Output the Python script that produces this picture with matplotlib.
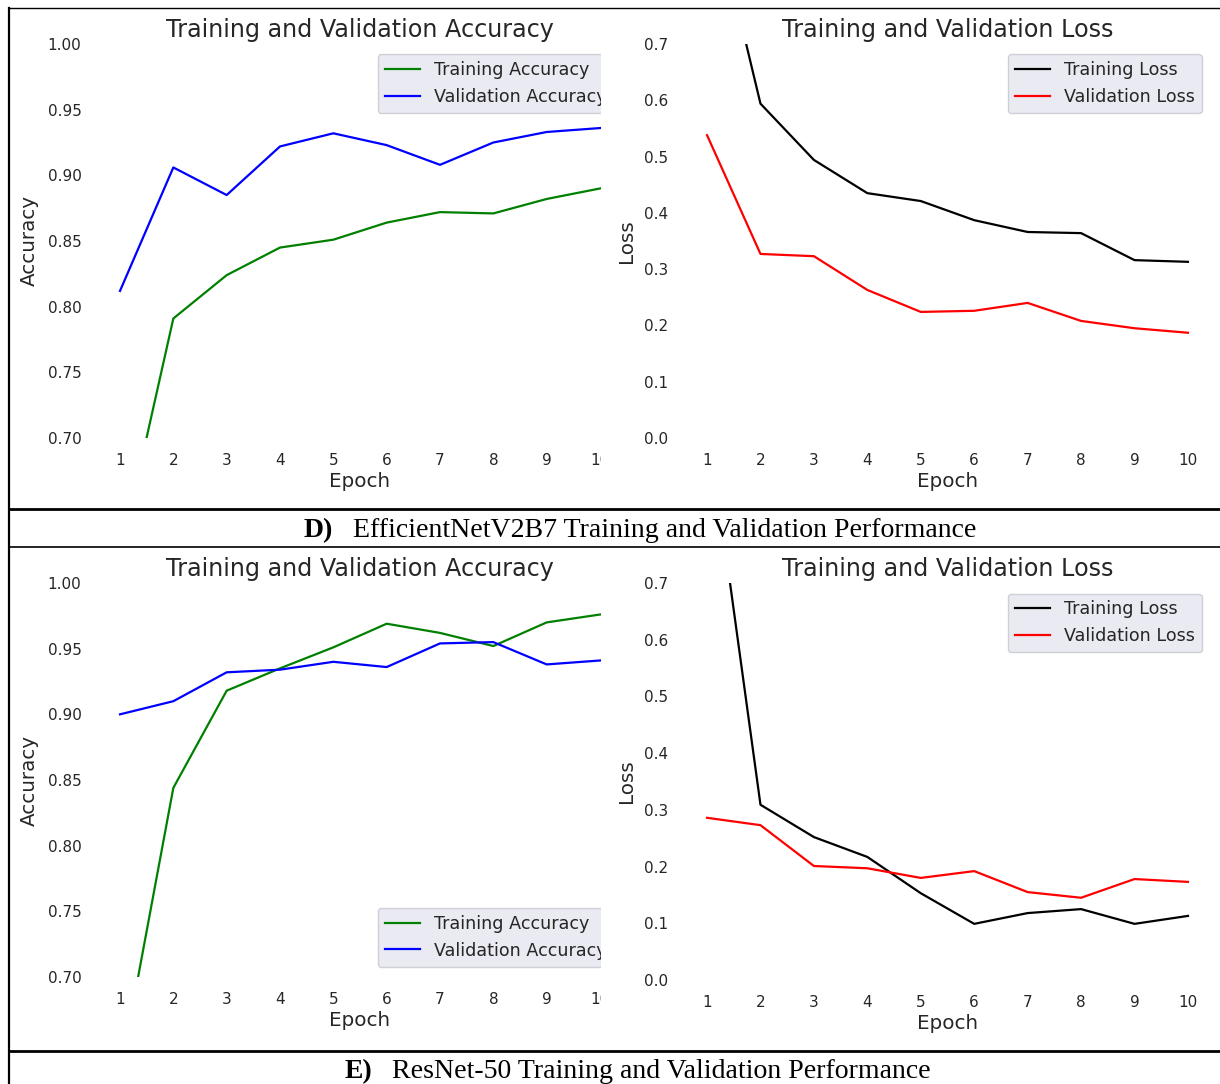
import numpy as np
import matplotlib
matplotlib.use('Agg')
import matplotlib.pyplot as plt
from matplotlib.patches import Rectangle
from matplotlib.lines import Line2D

# Values
epochs = np.arange(1, 11)

effnet_train_acc = [0.61, 0.791, 0.824, 0.845, 0.851, 0.864, 0.872, 0.871, 0.882, 0.890]
effnet_val_acc = [0.812, 0.906, 0.885, 0.922, 0.932, 0.923, 0.908, 0.925, 0.933, 0.936]
effnet_train_loss = [0.99, 0.594, 0.494, 0.435, 0.421, 0.387, 0.366, 0.364, 0.316, 0.313]
effnet_val_loss = [0.538, 0.327, 0.323, 0.263, 0.224, 0.226, 0.240, 0.208, 0.195, 0.187]

resnet_train_acc = [0.626, 0.844, 0.918, 0.935, 0.951, 0.969, 0.962, 0.952, 0.970, 0.976]
resnet_val_acc = [0.900, 0.910, 0.932, 0.934, 0.940, 0.936, 0.954, 0.955, 0.938, 0.941]
resnet_train_loss = [0.995, 0.309, 0.252, 0.217, 0.153, 0.099, 0.118, 0.125, 0.099, 0.113]
resnet_val_loss = [0.286, 0.273, 0.201, 0.197, 0.180, 0.192, 0.155, 0.145, 0.178, 0.173]

captions = [('D)', 'EfficientNetV2B7 Training and Validation Performance'),
            ('E)', 'ResNet-50 Training and Validation Performance')]

W, H = 1220, 1084
fig = plt.figure(figsize=(W / 100, H / 100), dpi=100)

TXT = '#262626'


def px_axes(x0, y0, x1, y1, z):
    # pixel box (top-left origin) -> figure axes
    return fig.add_axes([x0 / W, 1 - y1 / H, (x1 - x0) / W, (y1 - y0) / H], zorder=z)


def style(ax, title, ylabel, ylim):
    ax.set_facecolor('white')
    for s in ax.spines.values():
        s.set_visible(False)
    ax.set_ylim(*ylim)
    ax.set_xlim(0.55, 10.45)
    ax.set_xticks(epochs)
    ax.tick_params(axis='both', length=0, labelsize=11, labelcolor=TXT)
    ax.tick_params(axis='y', pad=10.5)
    ax.tick_params(axis='x', pad=10.5)
    ax.set_title(title, fontsize=17.2, color=TXT, pad=5)
    ax.set_xlabel('Epoch', fontsize=14.3, color=TXT, labelpad=3)
    ax.set_ylabel(ylabel, fontsize=14.3, color=TXT, labelpad=6)


def legend(ax, loc):
    leg = ax.legend(loc=loc, fontsize=12.6, facecolor='#EAEAF2', edgecolor='#cfcfd6',
                    framealpha=1.0, borderaxespad=0.6)
    for t in leg.get_texts():
        t.set_color(TXT)


rows = [
    (44, 438, 44, 438, effnet_train_acc, effnet_val_acc, effnet_train_loss, effnet_val_loss, 'upper right'),
    (583, 977, 583, 980, resnet_train_acc, resnet_val_acc, resnet_train_loss, resnet_val_loss, 'lower right'),
]

for top, bot, rtop, rbot, tr_acc, va_acc, tr_loss, va_loss, acc_loc in rows:
    # accuracy plot (right part gets covered by the loss image)
    ax1 = px_axes(96, top, 624, bot, 0)
    ax1.plot(epochs, tr_acc, color='green', lw=1.6, label='Training Accuracy')
    ax1.plot(epochs, va_acc, color='blue', lw=1.6, label='Validation Accuracy')
    style(ax1, 'Training and Validation Accuracy', 'Accuracy', (0.70, 1.00))
    legend(ax1, acc_loc)

    # loss plot
    ax2 = px_axes(683, rtop, 1212, rbot, 2)
    ax2.plot(epochs, tr_loss, color='black', lw=1.6, label='Training Loss')
    ax2.plot(epochs, va_loss, color='red', lw=1.6, label='Validation Loss')
    style(ax2, 'Training and Validation Loss', 'Loss', (0.0, 0.7))
    legend(ax2, 'upper right')

# white cover: the loss image sits on top of the accuracy image
fig.add_artist(Rectangle((601 / W, 0), (W - 601) / W, 1, transform=fig.transFigure,
                         facecolor='white', edgecolor='none', zorder=1))


def hline(y, lw):
    fig.add_artist(Line2D([9 / W, 1], [1 - y / H] * 2, color='black', lw=lw, zorder=3))


# table borders
hline(7.5, 1.0)
hline(509, 2.0)
hline(546.5, 1.2)
hline(1050.5, 2.0)
fig.add_artist(Line2D([9 / W, 9 / W], [0, 1 - 7.5 / H], color='black', lw=1.6, zorder=3))

# captions
cap_pos = [(304, 353, 537), (345, 392, 1078)]
for (lab, txt), (xl, xt, yb) in zip(captions, cap_pos):
    fig.text(xl / W, 1 - yb / H, lab, fontsize=20, fontweight='bold',
             family='Liberation Serif', va='baseline', ha='left', zorder=3)
    fig.text(xt / W, 1 - yb / H, txt, fontsize=20.1,
             family='Liberation Serif', va='baseline', ha='left', zorder=3)

fig.savefig('out.png', dpi=100)
